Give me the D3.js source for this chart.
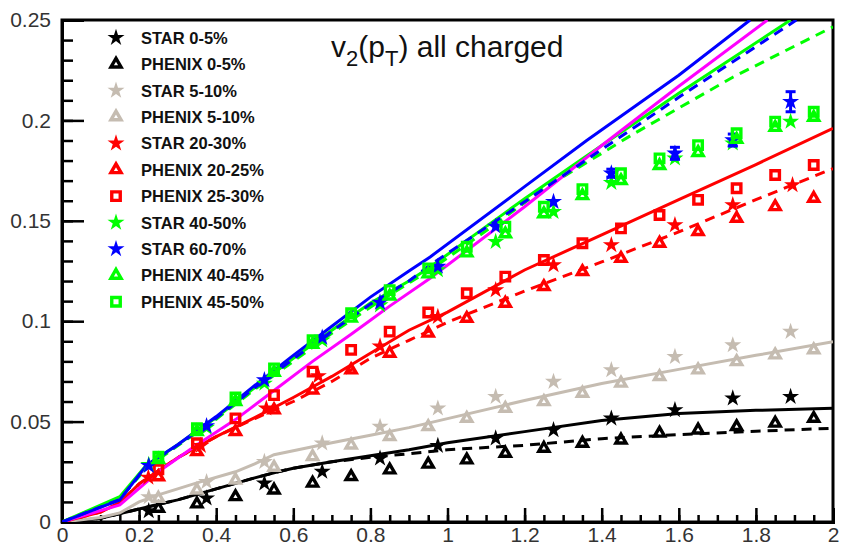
<!DOCTYPE html>
<html>
<head>
<meta charset="utf-8">
<script src="https://cdn.jsdelivr.net/npm/d3@7"></script>
<style>
  html, body { margin: 0; padding: 0; background: #fff; }
  svg { display: block; }
  text { font-family: "Liberation Sans", Arial, Helvetica, sans-serif; }
</style>
</head>
<body>
<svg id="chart" width="844" height="548"></svg>
<script>
// ---------- measured v2(pT) points ----------
const phenixPt  = [0.25,0.35,0.45,0.55,0.65,0.75,0.85,0.95,1.05,1.15,1.25,1.35,1.45,1.55,1.65,1.75,1.85,1.95];
const starPt    = [0.225,0.375,0.525,0.675,0.825,0.975,1.125,1.275,1.425,1.59,1.74,1.89];
const star2030Pt = [0.224,0.36,0.53,0.665,0.825,0.975,1.125,1.275,1.425,1.59,1.74,1.895];

const star0_5     = [0.0055,0.0118,0.0193,0.0251,0.0317,0.0380,0.0417,0.0458,0.0516,0.0558,0.0616,0.0624];
const phenix0_5   = [0.0068,0.0090,0.0126,0.0159,0.0193,0.0226,0.0259,0.0288,0.0309,0.0342,0.0367,0.0392,0.0408,0.0442,0.0458,0.0475,0.0492,0.0516];
const star5_10    = [0.0125,0.0200,0.0300,0.0392,0.0475,0.0566,0.0624,0.0699,0.0757,0.0823,0.0881,0.0948];
const phenix5_10  = [0.0118,0.0159,0.0209,0.0272,0.0325,0.0383,0.0425,0.0475,0.0516,0.0566,0.0599,0.0641,0.0691,0.0724,0.0757,0.0798,0.0832,0.0857];
const star20_30   = [0.0222,0.0380,0.0566,0.0727,0.0875,0.1022,0.1155,0.1280,0.1380,0.1479,0.1579,0.1678];
const phenix20_25 = [0.0225,0.0350,0.0450,0.0558,0.0657,0.0757,0.0840,0.0940,0.1014,0.1089,0.1172,0.1247,0.1313,0.1388,0.1446,0.1512,0.1570,0.1612];
const phenix25_30 = [0.0263,0.0392,0.0516,0.0632,0.0749,0.0857,0.0948,0.1043,0.1139,0.1222,0.1305,0.1388,0.1462,0.1529,0.1604,0.1662,0.1728,0.1778];
const star40_50   = [0.0285,0.0470,0.0690,0.0905,0.1080,0.1255,0.1396,0.1545,0.1690,0.1811,0.1886,0.1994];
const star60_70   = [0.0280,0.0478,0.0707,0.0919,0.1093,0.1272,0.1471,0.1595,0.1737,0.1836,0.1902,0.2093];
const star60_70Err = [0,0,0,0,0,0,0,0,0.002,0.003,0.003,0.005];
const phenix40_45 = [0.0310,0.0450,0.0600,0.0745,0.0885,0.1015,0.1125,0.1235,0.1340,0.1435,0.1535,0.1625,0.1700,0.1775,0.1840,0.1905,0.1965,0.2015];
const phenix45_50 = [0.0325,0.0467,0.0620,0.0765,0.0906,0.1040,0.1155,0.1263,0.1371,0.1471,0.1570,0.1658,0.1737,0.1811,0.1877,0.1936,0.1994,0.2043];

// ---------- model curves ----------
const curveBlackPt   = [0,0.1,0.2,0.3,0.4,0.5,0.55,0.6,0.7,0.8,0.9,1.0,1.2,1.4,1.6,1.8,2.0];
const curveBlack     = [0,0.0018,0.0065,0.0110,0.0165,0.0220,0.0245,0.0268,0.0300,0.0330,0.0360,0.0395,0.0450,0.0505,0.0540,0.0556,0.0566];
const curveBlackDash = [0,0.0018,0.0065,0.0110,0.0165,0.0220,0.0245,0.0268,0.0300,0.0322,0.0340,0.0360,0.0382,0.0415,0.0435,0.0452,0.0467];

const curveTanPt = [0,0.1,0.15,0.2,0.25,0.35,0.45,0.5,0.55,0.6,0.7,0.8,0.9,1.0,1.2,1.4,1.6,1.8,2.0];
const curveTan   = [0,0.0022,0.0045,0.0100,0.0135,0.0195,0.0250,0.0290,0.0335,0.0355,0.0395,0.0432,0.0470,0.0515,0.0605,0.0690,0.0760,0.0830,0.0898];

const curveRedPt   = [0,0.1,0.15,0.2,0.3,0.4,0.5,0.6,0.7,0.8,0.9,1.0,1.2,1.4,1.6,1.8,2.0];
const curveRed     = [0,0.0050,0.0095,0.0190,0.0320,0.0425,0.0520,0.0620,0.0725,0.0840,0.0955,0.1045,0.1255,0.1430,0.1605,0.1780,0.1960];
const curveRedDash = [0,0.0050,0.0095,0.0190,0.0320,0.0425,0.0515,0.0600,0.0700,0.0815,0.0905,0.0995,0.1150,0.1295,0.1445,0.1605,0.1760];

const curveGreenPt = [0,0.15,0.215,0.3,0.4,0.5,0.6,0.7,0.8,0.9,0.955,1.2,1.4,1.6,1.89];
const curveGreen   = [0,0.0126,0.0275,0.0385,0.0520,0.0670,0.0815,0.0955,0.1090,0.1200,0.1270,0.1610,0.1875,0.2135,0.2500];

const curveBluePt = [0,0.15,0.22,0.3,0.4,0.5,0.6,0.7,0.8,0.9,0.955,1.2,1.361,1.6,1.785];
const curveBlue   = [0,0.0110,0.0285,0.0385,0.0525,0.0680,0.0830,0.0975,0.1120,0.1250,0.1320,0.1670,0.1900,0.2225,0.2500];

const curveBlueDashPt = [0,0.15,0.22,0.3,0.4,0.5,0.6,0.7,0.8,0.9,0.955,1.2,1.4,1.6,1.905];
const curveBlueDash   = [0,0.0112,0.0280,0.0383,0.0518,0.0668,0.0812,0.0950,0.1085,0.1200,0.1280,0.1595,0.1855,0.2115,0.2500];

const curveGreenDashPt = [0,0.15,0.22,0.3,0.4,0.5,0.6,0.7,0.8,0.9,0.955,1.1,1.25,1.48,1.74,2.0];
const curveGreenDash   = [0,0.0118,0.0270,0.0380,0.0512,0.0660,0.0800,0.0940,0.1070,0.1190,0.1255,0.1450,0.1660,0.1930,0.2215,0.2466];

const curveMagentaPt = [0,0.15,0.25,0.35,0.45,0.55,0.65,0.75,0.8,0.85,0.955,1.2,1.4,1.6,1.83];
const curveMagenta   = [0,0.0085,0.0250,0.0385,0.0510,0.0655,0.0800,0.0935,0.1005,0.1075,0.1214,0.1570,0.1875,0.2170,0.2500];

// ---------- axis ticks ----------
const xTickLabels = ["0","0.2","0.4","0.6","0.8","1","1.2","1.4","1.6","1.8","2"];
const yTickLabels = ["0","0.05","0.1","0.15","0.2","0.25"];

// ---------- colours ----------
const TAN = "#c5bcb1", RED = "#ff0000", GREEN = "#00ff00", BLUE = "#0000ff", MAGENTA = "#ff00ff", BLACK = "#000000";

const svg = d3.select("#chart");
const x = d3.scaleLinear().domain([0, 2]).range([62, 833]);
const y = d3.scaleLinear().domain([0, 0.25]).range([522, 20]);

// clip for curves
svg.append("clipPath").attr("id", "plotClip")
  .append("rect").attr("x", 62).attr("y", 20).attr("width", 771).attr("height", 502);

// frame (top and right sides)
svg.append("rect").attr("x", 62).attr("y", 20).attr("width", 771).attr("height", 502)
  .attr("fill", "none").attr("stroke", "#000").attr("stroke-width", 3);

// ---------- axes ----------
const xMinor = svg.append("g").attr("transform", "translate(0,522)")
  .call(d3.axisBottom(x).tickValues(d3.range(0, 41).map(i => i * 0.05)).tickSize(-7).tickFormat(""));
xMinor.select(".domain").remove();
const xMajor = svg.append("g").attr("transform", "translate(0,522)")
  .call(d3.axisBottom(x).tickValues(xTickLabels.map(Number)).tickSize(-14).tickPadding(5)
        .tickFormat((d, i) => xTickLabels[i]));
xMajor.select(".domain").attr("stroke-width", 3);
xMajor.selectAll("text").attr("font-size", 21).attr("fill", "#333");

const yMinor = svg.append("g").attr("transform", "translate(62,0)")
  .call(d3.axisLeft(y).tickValues(d3.range(0, 26).map(i => i * 0.01)).tickSize(-11).tickFormat(""));
yMinor.select(".domain").remove();
const yMajor = svg.append("g").attr("transform", "translate(62,0)")
  .call(d3.axisLeft(y).tickValues(yTickLabels.map(Number)).tickSize(-22).tickPadding(11)
        .tickFormat((d, i) => yTickLabels[i]));
yMajor.select(".domain").attr("stroke-width", 3);
yMajor.selectAll("text").attr("font-size", 21).attr("fill", "#333");
svg.selectAll("g.tick line").attr("stroke-width", 2.5);

// ---------- curves ----------
const curves = [
  {pt: curveBlackPt, v: curveBlack, color: BLACK, dash: null},
  {pt: curveBlackPt, v: curveBlackDash, color: BLACK, dash: "10,7"},
  {pt: curveTanPt, v: curveTan, color: TAN, dash: null},
  {pt: curveRedPt, v: curveRed, color: RED, dash: null},
  {pt: curveRedPt, v: curveRedDash, color: RED, dash: "10,7"},
  {pt: curveGreenDashPt, v: curveGreenDash, color: GREEN, dash: "10,7"},
  {pt: curveGreenPt, v: curveGreen, color: GREEN, dash: null},
  {pt: curveMagentaPt, v: curveMagenta, color: MAGENTA, dash: null},
  {pt: curveBlueDashPt, v: curveBlueDash, color: BLUE, dash: "10,7"},
  {pt: curveBluePt, v: curveBlue, color: BLUE, dash: null}
];
const line = d3.line().x(d => x(d[0])).y(d => y(d[1]));
const gCurves = svg.append("g").attr("clip-path", "url(#plotClip)");
curves.forEach(c => {
  gCurves.append("path")
    .attr("d", line(c.pt.map((p, i) => [p, c.v[i]])))
    .attr("fill", "none").attr("stroke", c.color).attr("stroke-width", 3)
    .attr("stroke-dasharray", c.dash);
});

// ---------- markers ----------
const starSym = d3.symbol().type(d3.symbolStar).size(90)();
const triSym = d3.symbol().type(d3.symbolTriangle).size(44)();
const sqSym = d3.symbol().type(d3.symbolSquare).size(72)();

function drawMarker(g, kind, color) {
  if (kind === "star") {
    g.append("path").attr("d", starSym).attr("fill", color);
  } else if (kind === "tri") {
    g.append("path").attr("d", triSym).attr("fill", "none").attr("stroke", color)
      .attr("stroke-width", 3.4).attr("stroke-linejoin", "miter");
  } else {
    g.append("path").attr("d", sqSym).attr("fill", "none").attr("stroke", color).attr("stroke-width", 3.4);
  }
}

const series = [
  {name: "STAR 0-5%",     kind: "star", color: BLACK, pt: starPt,     v: star0_5},
  {name: "PHENIX 0-5%",   kind: "tri",  color: BLACK, pt: phenixPt,   v: phenix0_5},
  {name: "STAR 5-10%",    kind: "star", color: TAN,   pt: starPt,     v: star5_10},
  {name: "PHENIX 5-10%",  kind: "tri",  color: TAN,   pt: phenixPt,   v: phenix5_10},
  {name: "STAR 20-30%",   kind: "star", color: RED,   pt: star2030Pt, v: star20_30},
  {name: "PHENIX 20-25%", kind: "tri",  color: RED,   pt: phenixPt,   v: phenix20_25},
  {name: "PHENIX 25-30%", kind: "sq",   color: RED,   pt: phenixPt,   v: phenix25_30},
  {name: "STAR 40-50%",   kind: "star", color: GREEN, pt: starPt,     v: star40_50},
  {name: "STAR 60-70%",   kind: "star", color: BLUE,  pt: starPt,     v: star60_70, err: star60_70Err},
  {name: "PHENIX 40-45%", kind: "tri",  color: GREEN, pt: phenixPt,   v: phenix40_45},
  {name: "PHENIX 45-50%", kind: "sq",   color: GREEN, pt: phenixPt,   v: phenix45_50}
];

const gPts = svg.append("g");
series.forEach(s => {
  s.v.forEach((val, i) => {
    const px = x(s.pt[i]), py = y(val);
    if (s.err && s.err[i] > 0) {
      const y1 = y(val + s.err[i]), y2 = y(val - s.err[i]);
      gPts.append("line").attr("x1", px).attr("x2", px).attr("y1", y1).attr("y2", y2)
        .attr("stroke", s.color).attr("stroke-width", 3);
      [y1, y2].forEach(yy => gPts.append("line").attr("x1", px - 5).attr("x2", px + 5)
        .attr("y1", yy).attr("y2", yy).attr("stroke", s.color).attr("stroke-width", 3));
    }
    const g = gPts.append("g").attr("transform", `translate(${px},${py})`);
    drawMarker(g, s.kind, s.color);
  });
});

// ---------- legend ----------
const legend = svg.append("g");
series.forEach((s, i) => {
  const ly = 37.7 + i * 26.4;
  const g = legend.append("g").attr("transform", `translate(116,${ly})`);
  drawMarker(g, s.kind, s.color);
  legend.append("text").attr("x", 141).attr("y", ly + 6)
    .attr("font-size", 16.5).attr("font-weight", "bold").attr("fill", "#111")
    .text(s.name);
});

// ---------- title ----------
const title = svg.append("text").attr("x", 331).attr("y", 57).attr("font-size", 30).attr("fill", "#111");
title.append("tspan").text("v");
title.append("tspan").attr("font-size", 22).attr("dy", 9).text("2");
title.append("tspan").attr("dy", -9).text("(p");
title.append("tspan").attr("font-size", 22).attr("dy", 9).text("T");
title.append("tspan").attr("dy", -9).text(") all charged");
</script>
</body>
</html>
